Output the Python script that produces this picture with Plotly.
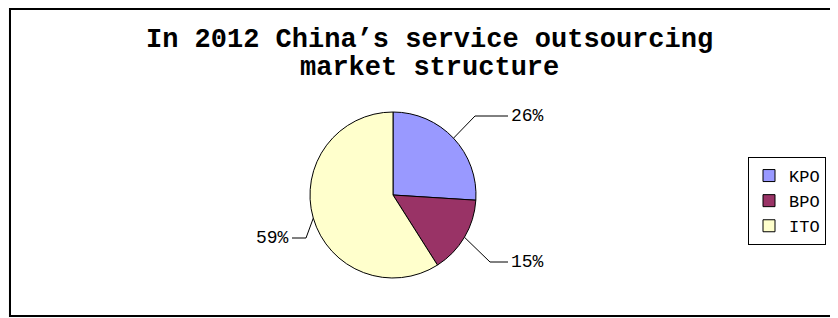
import math
import plotly.graph_objects as go

categories = ["KPO", "BPO", "ITO"]
shares = [26, 15, 59]
colors = ["#9999FF", "#993366", "#FFFFCC"]
title_lines = ["In 2012 China’s service outsourcing", "market structure"]

OFF = 8            # page body margin; positions below are page pixels
W, H = 830, 310    # figure size


def px(x):
    return (x - OFF) / W


def py(y):
    return 1 - (y - OFF) / H


cx, cy, r = 393, 195, 83  # pie centre / radius in page pixels

fig = go.Figure()
fig.add_trace(go.Pie(
    labels=categories, values=shares, sort=False, direction="clockwise",
    rotation=0, textinfo="none", hoverinfo="label+percent",
    marker=dict(colors=colors, line=dict(color="black", width=1)),
    domain=dict(x=[px(cx - r), px(cx + r)], y=[py(cy + r), py(cy - r)]),
))

# label placement (page pixel positions of elbow and line end) per category
label_layout = {
    "KPO": dict(elbow=(475, 116), end=(508, 116), side="right"),
    "BPO": dict(elbow=(490, 262), end=(508, 262), side="right"),
    "ITO": dict(elbow=(306, 238), end=(292, 238), side="left"),
}

shapes = []
annotations = []
total = sum(shares)
cum = 0
for cat, v in zip(categories, shares):
    mid = (cum + v / 2) / total * 2 * math.pi
    cum += v
    ex, ey = cx + r * math.sin(mid), cy - r * math.cos(mid)
    lay = label_layout[cat]
    (bx, by), (tx, ty) = lay["elbow"], lay["end"]
    path = f"M {px(ex)} {py(ey)} L {px(bx)} {py(by)} L {px(tx)} {py(ty)}"
    shapes.append(dict(type="path", xref="paper", yref="paper", path=path,
                       line=dict(color="black", width=1)))
    pct = round(v / total * 100)
    annotations.append(dict(
        x=px(tx + (1 if lay["side"] == "right" else -1)), y=py(ty),
        xref="paper", yref="paper", showarrow=False,
        text=f"{pct}%", xanchor="left" if lay["side"] == "right" else "right",
        yanchor="middle", font=dict(family="Liberation Mono", size=18, color="black"),
    ))

# title
for i, line in enumerate(title_lines):
    annotations.append(dict(
        x=px(429), y=py(40 + 28 * i), xref="paper", yref="paper", showarrow=False,
        text=f"<b>{line}</b>", xanchor="center", yanchor="middle",
        font=dict(family="Liberation Mono", size=27, color="black"),
    ))

# chart frame
frame = dict(type="rect", xref="paper", yref="paper", x0=px(10), x1=1.05,
             y0=py(316), y1=py(9), line=dict(color="black", width=2),
             fillcolor="white", layer="below")

fig.update_layout(
    width=W, height=H, margin=dict(l=0, r=0, t=0, b=0),
    paper_bgcolor="#f9f9f9", plot_bgcolor="white",
    shapes=[frame] + shapes, annotations=annotations,
    showlegend=True,
    legend=dict(x=px(748), y=py(157), xanchor="left", yanchor="top",
                bordercolor="black", borderwidth=1, bgcolor="white",
                font=dict(family="Liberation Mono", size=17, color="black"),
                itemwidth=30, tracegroupgap=0),
)

fig.write_html("out.html")
